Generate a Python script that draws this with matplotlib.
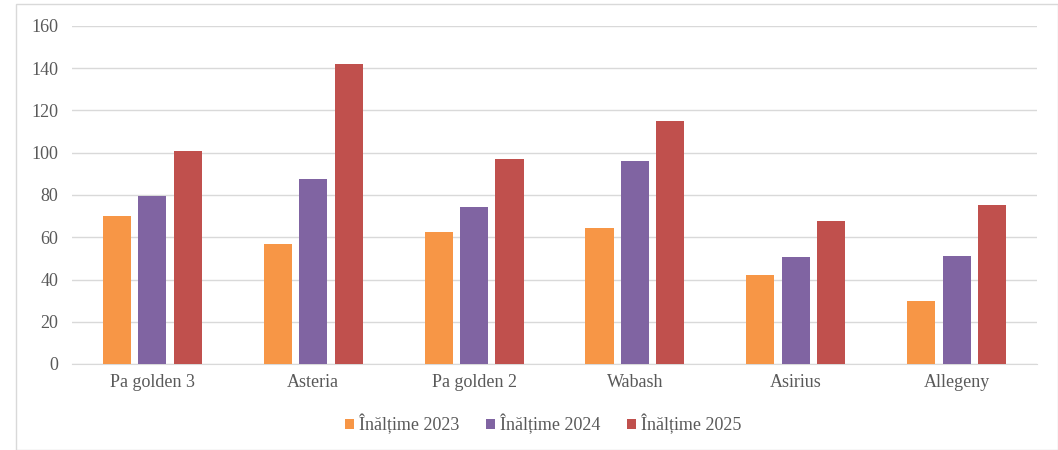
import numpy as np
import matplotlib.pyplot as plt
from matplotlib.patches import Rectangle

categories = ['Pa golden 3', 'Asteria', 'Pa golden 2', 'Wabash', 'Asirius', 'Allegeny']
h2023 = [70, 57, 62.5, 64.5, 42, 30]
h2024 = [79.5, 87.5, 74.5, 96, 50.5, 51]
h2025 = [101, 142, 97, 115, 67.5, 75.5]
labels = ['Înălțime 2023', 'Înălțime 2024', 'Înălțime 2025']
colors = ['#F79646', '#8064A2', '#C0504D']

plt.rcParams['font.family'] = ['Liberation Serif', 'DejaVu Serif']

fig = plt.figure(figsize=(10.58, 4.5), dpi=100)
fig.patches.append(Rectangle((16 / 1058, 0), 1 - 16 / 1058, 1 - 4 / 450, transform=fig.transFigure,
                             fill=False, edgecolor='#D9D9D9', linewidth=1))
ax = fig.add_axes([72 / 1058, 1 - 364 / 450, (1037 - 72) / 1058, (364 - 26) / 450])

x = np.arange(len(categories))
w = 0.175
step = 0.22
for i, (vals, lab, c) in enumerate(zip([h2023, h2024, h2025], labels, colors)):
    ax.bar(x + (i - 1) * step, vals, w, color=c, label=lab, zorder=3)

ax.set_xlim(-0.5, len(categories) - 0.5)
ax.set_ylim(0, 160)
ax.set_yticks(range(0, 161, 20))
ax.set_xticks(x)
ax.set_xticklabels(categories)
ax.grid(axis='y', color='#D9D9D9', linewidth=1, zorder=0)
for s in ['top', 'right', 'left']:
    ax.spines[s].set_visible(False)
ax.spines['bottom'].set_color('#D9D9D9')
ax.tick_params(axis='both', length=0, labelsize=13, colors='#595959')
ax.tick_params(axis='y', pad=10)
ax.tick_params(axis='x', pad=7)

ax.legend(loc='center', bbox_to_anchor=(0.488, -0.178), ncol=3, frameon=False, fontsize=13,
          handlelength=0.5, handleheight=0.5, handletextpad=0.25, columnspacing=1.5,
          labelcolor='#595959')

fig.savefig('out.png', dpi=100)
